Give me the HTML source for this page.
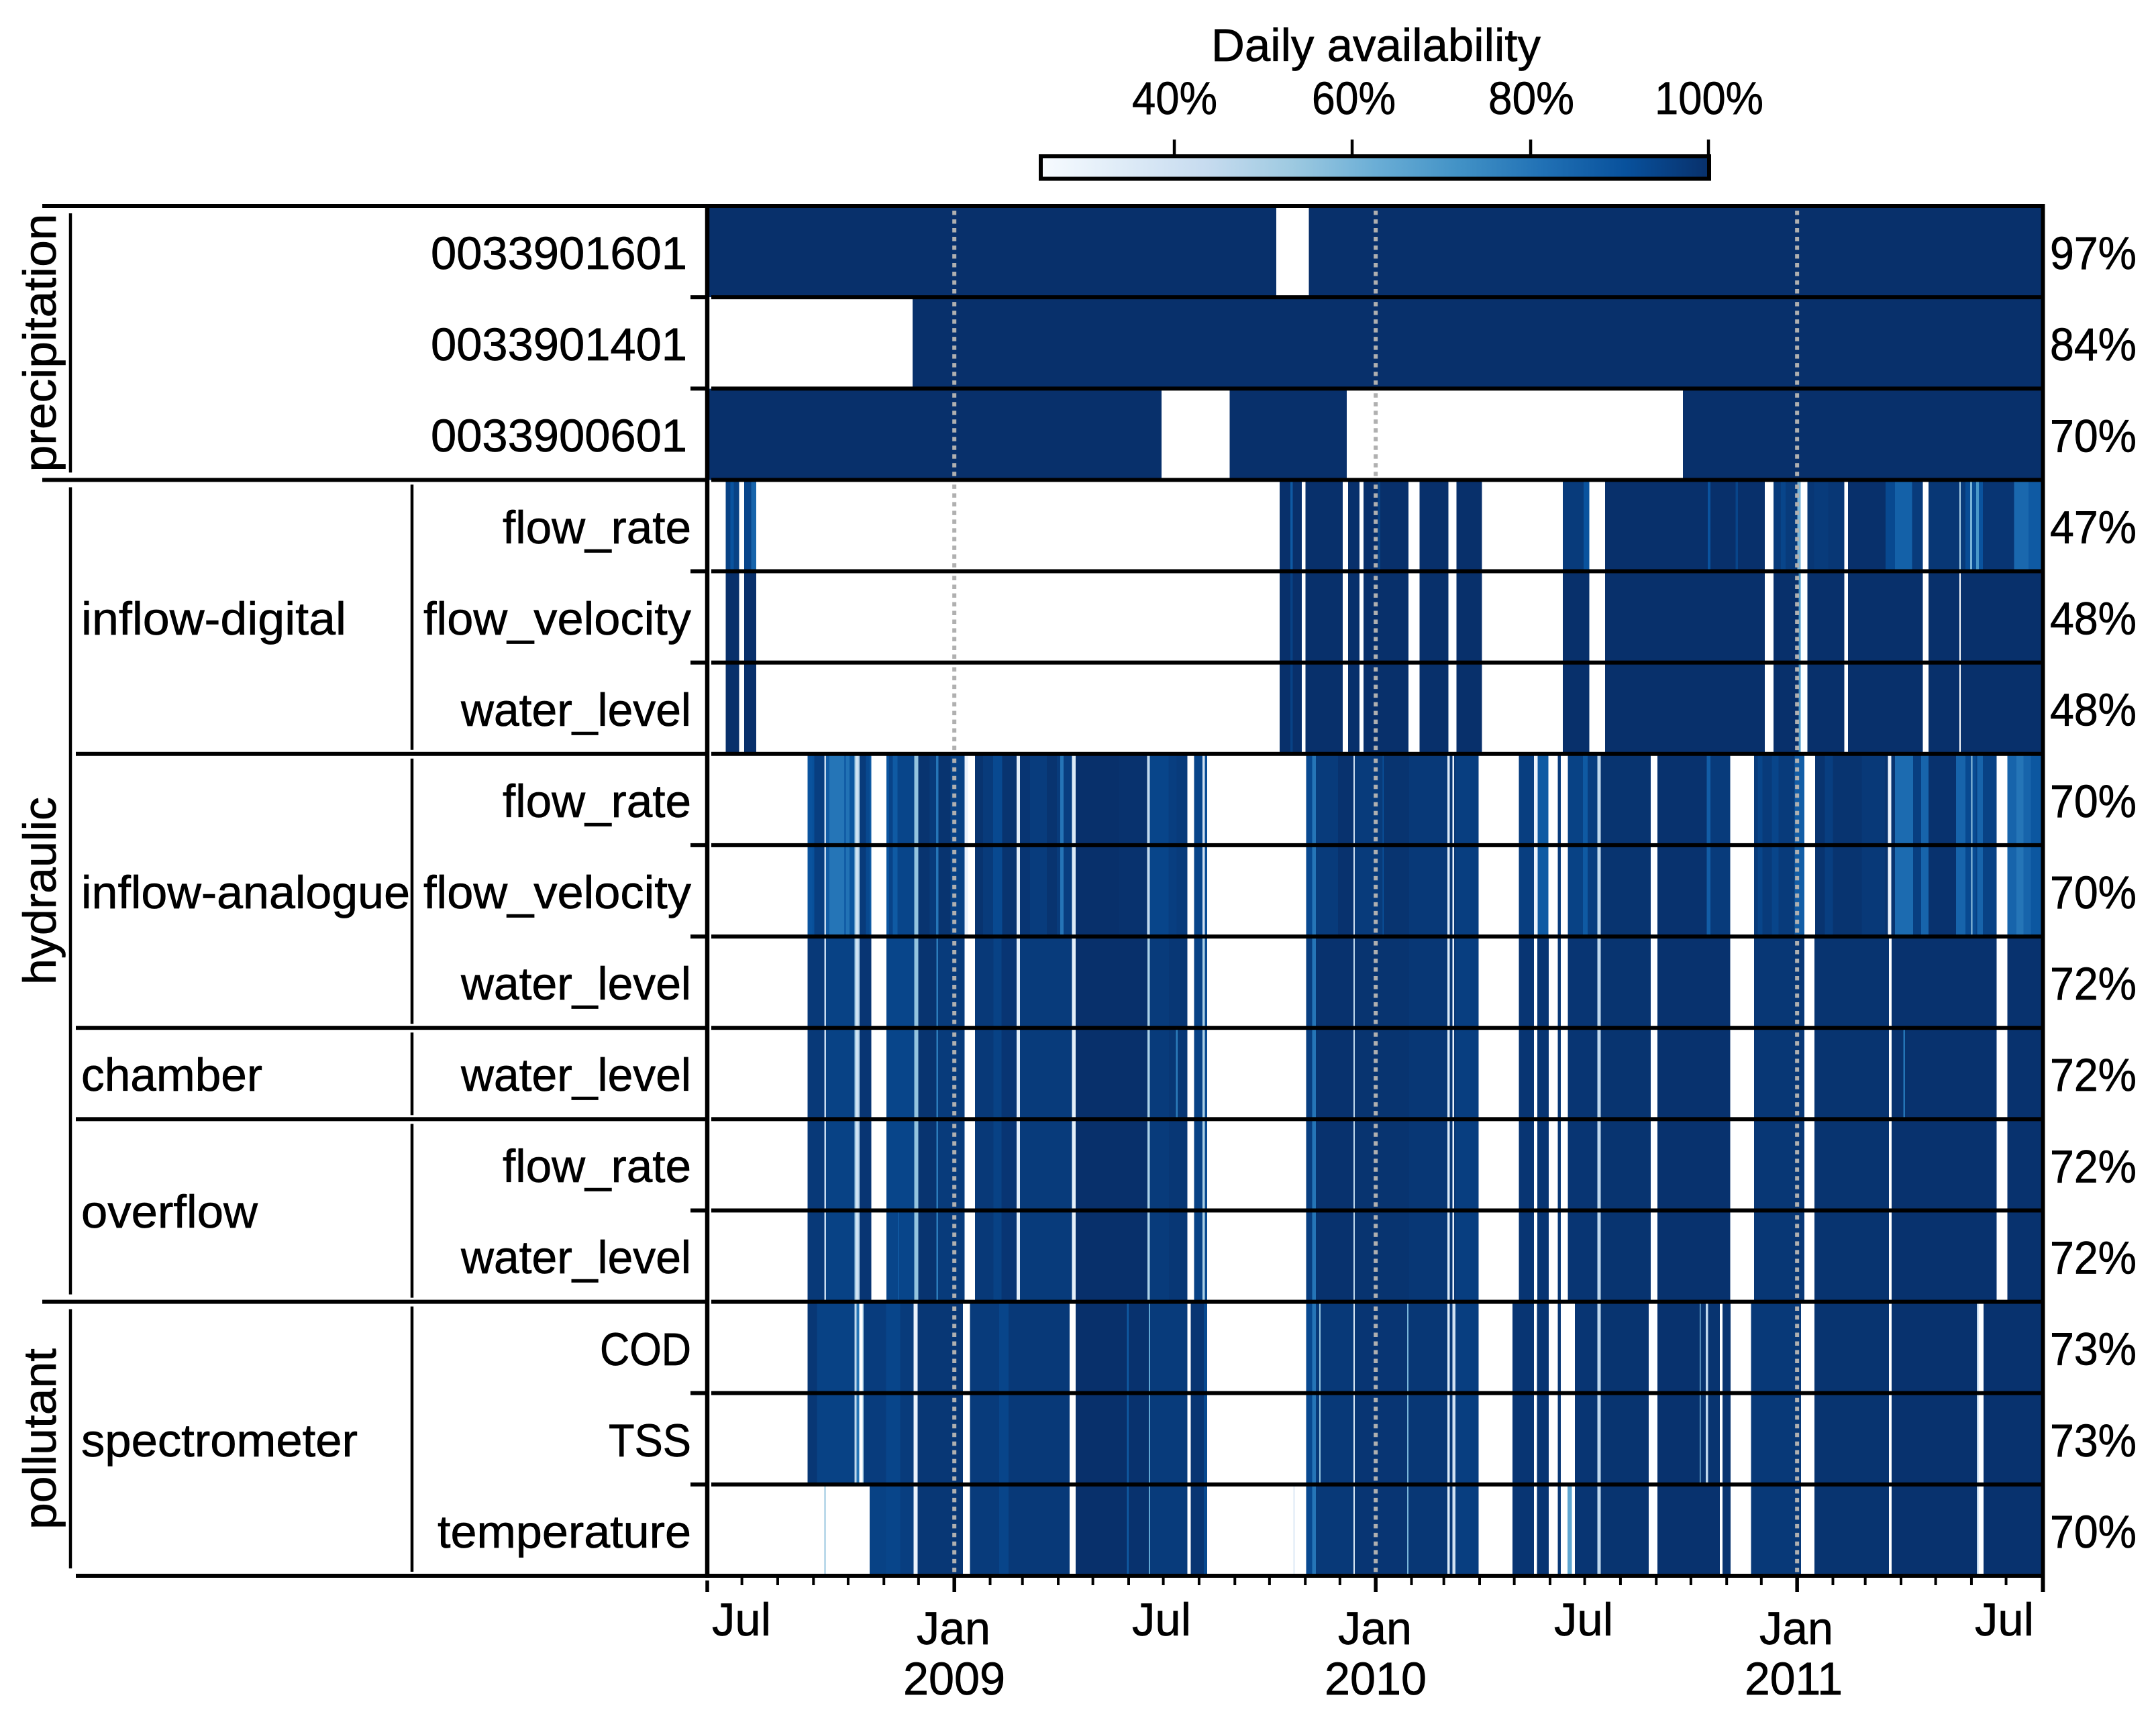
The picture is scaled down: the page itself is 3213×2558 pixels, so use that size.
<!DOCTYPE html>
<html lang="en">
<head>
<meta charset="utf-8">
<title>Daily availability heatmap</title>
<style>
html,body{margin:0;padding:0;background:#fff}
svg{display:block}
text{font-family:"Liberation Sans",sans-serif;font-size:69px;fill:#000;stroke:#000;stroke-width:.7px}
</style>
</head>
<body>
<svg id="chart" xmlns="http://www.w3.org/2000/svg" width="3213" height="2558" viewBox="0 0 3213 2558">
  <defs>
    <linearGradient id="blues" x1="0" x2="1" y1="0" y2="0">
      <stop offset="0" stop-color="#f7fbff"/><stop offset=".125" stop-color="#deebf7"/>
      <stop offset=".25" stop-color="#c6dbef"/><stop offset=".375" stop-color="#9ecae1"/>
      <stop offset=".5" stop-color="#6baed6"/><stop offset=".625" stop-color="#4292c6"/>
      <stop offset=".75" stop-color="#2171b5"/><stop offset=".875" stop-color="#08519c"/>
      <stop offset="1" stop-color="#08306b"/>
    </linearGradient>
  </defs>

  <g id="heat"></g>
  <g id="dashes"></g>
  <g id="frame"></g>
  <g id="ticks"></g>

  <g>
    <text x="1805" y="91" textLength="491" lengthAdjust="spacingAndGlyphs">Daily availability</text>
    <text x="1687" y="170" textLength="127" lengthAdjust="spacingAndGlyphs">40%</text>
    <text x="1955" y="170" textLength="125" lengthAdjust="spacingAndGlyphs">60%</text>
    <text x="2218" y="170" textLength="128" lengthAdjust="spacingAndGlyphs">80%</text>
    <text x="2466" y="170" textLength="162" lengthAdjust="spacingAndGlyphs">100%</text>
    <rect x="1551" y="233" width="996" height="33.5" fill="url(#blues)" stroke="#000" stroke-width="6"/>
    <rect x="1747.8" y="208" width="4.5" height="23"/>
    <rect x="2012.8" y="208" width="4.5" height="23"/>
    <rect x="2278.8" y="208" width="4.5" height="23"/>
    <rect x="2543.8" y="208" width="4.5" height="23"/>
  </g>

  <g>
    <text transform="translate(83 511) rotate(-90)" text-anchor="middle" textLength="385" lengthAdjust="spacingAndGlyphs">precipitation</text>
    <text transform="translate(83 1328) rotate(-90)" text-anchor="middle" textLength="280" lengthAdjust="spacingAndGlyphs">hydraulic</text>
    <text transform="translate(83 2145) rotate(-90)" text-anchor="middle" textLength="270" lengthAdjust="spacingAndGlyphs">pollutant</text>
  </g>

  <g>
    <text x="121" y="946" textLength="395" lengthAdjust="spacingAndGlyphs">inflow-digital</text>
    <text x="121" y="1354" textLength="490" lengthAdjust="spacingAndGlyphs">inflow-analogue</text>
    <text x="121" y="1626" textLength="270" lengthAdjust="spacingAndGlyphs">chamber</text>
    <text x="121" y="1830" textLength="263" lengthAdjust="spacingAndGlyphs">overflow</text>
    <text x="121" y="2171" textLength="412" lengthAdjust="spacingAndGlyphs">spectrometer</text>
  </g>

  <g>
    <text x="642" y="401" textLength="382" lengthAdjust="spacingAndGlyphs">0033901601</text>
    <text x="642" y="537" textLength="382" lengthAdjust="spacingAndGlyphs">0033901401</text>
    <text x="642" y="673" textLength="382" lengthAdjust="spacingAndGlyphs">0033900601</text>
    <text x="749" y="810" textLength="281" lengthAdjust="spacingAndGlyphs">flow_rate</text>
    <text x="631" y="946" textLength="399" lengthAdjust="spacingAndGlyphs">flow_velocity</text>
    <text x="687" y="1082" textLength="343" lengthAdjust="spacingAndGlyphs">water_level</text>
    <text x="749" y="1218" textLength="281" lengthAdjust="spacingAndGlyphs">flow_rate</text>
    <text x="631" y="1354" textLength="399" lengthAdjust="spacingAndGlyphs">flow_velocity</text>
    <text x="687" y="1490" textLength="343" lengthAdjust="spacingAndGlyphs">water_level</text>
    <text x="687" y="1626" textLength="343" lengthAdjust="spacingAndGlyphs">water_level</text>
    <text x="749" y="1762" textLength="281" lengthAdjust="spacingAndGlyphs">flow_rate</text>
    <text x="687" y="1898" textLength="343" lengthAdjust="spacingAndGlyphs">water_level</text>
    <text x="894" y="2035" textLength="136" lengthAdjust="spacingAndGlyphs">COD</text>
    <text x="907" y="2171" textLength="123" lengthAdjust="spacingAndGlyphs">TSS</text>
    <text x="652" y="2307" textLength="378" lengthAdjust="spacingAndGlyphs">temperature</text>
  </g>

  <g id="pct"></g>

  <g>
    <text x="1061" y="2438" textLength="88" lengthAdjust="spacingAndGlyphs">Jul</text>
    <text x="1687" y="2438" textLength="88" lengthAdjust="spacingAndGlyphs">Jul</text>
    <text x="2316" y="2438" textLength="88" lengthAdjust="spacingAndGlyphs">Jul</text>
    <text x="2943" y="2438" textLength="88" lengthAdjust="spacingAndGlyphs">Jul</text>
    <text x="1366" y="2451" textLength="110" lengthAdjust="spacingAndGlyphs">Jan</text>
    <text x="1994" y="2451" textLength="110" lengthAdjust="spacingAndGlyphs">Jan</text>
    <text x="2622" y="2451" textLength="110" lengthAdjust="spacingAndGlyphs">Jan</text>
    <text x="1346" y="2526" textLength="152" lengthAdjust="spacingAndGlyphs">2009</text>
    <text x="1974" y="2526" textLength="152" lengthAdjust="spacingAndGlyphs">2010</text>
    <text x="2600" y="2526" textLength="146" lengthAdjust="spacingAndGlyphs">2011</text>
  </g>
</svg>

<script>
// Data: each run is [first day, last day, availability %]; days count from 2008-06-01.
// Later runs paint over earlier ones.
const percentLabels = [97,84,70,47,48,48,70,70,72,72,72,72,73,73,70];

const rain1601 = [[0,493,100],[521,1157,100]];
const rain1401 = [[178,1157,100]];
const rain0601 = [[0,393.5,100],[452.6,554,100],[845,1157,100]];

const digitalBase = [[16,27.7,100],[32,42.4,100],[495.8,515,100],[518.3,550.5,100],[555,565,100],[568.4,607.5,100],[617,642,100],[649,671,100],[741,764,100],[777.6,916,100],[923.6,947,100],[945.5,947,70],[953,985,100],[988,1053,100],[1057.7,1084.5,100],[1085.7,1157,100],[505,507,95]];
const digitalRateStripes = [[16,27.7,95],[20,23,90],[32,38,94],[38,42.4,85],[505,507,88],[581,583,95],[741,764,97],[759,764,90],[866.7,869,90],[890.6,892.7,94],[923.6,944.2,97],[930,934,94],[944.2,947,60],[953,958.7,98],[958.7,971,97],[971,985,98],[1020.5,1028.8,93],[1028.8,1043.6,86],[1043.6,1053,97],[1057.7,1084.5,98],[1084.5,1085.7,50],[1085.7,1089.8,97],[1089.8,1094,92],[1094,1095.6,60],[1095.6,1099,92],[1099,1101.4,70],[1101.4,1105,90],[1105,1132,98.5],[1132,1144.3,84],[1144.3,1157,88]];
const digitalFlowRate = [...digitalBase, ...digitalRateStripes];
const digitalFlowVelocity = [...digitalBase];
const digitalWaterLevel = [...digitalBase];

const analogueVariable = [[86.8,91,90],[91,92.6,91],[92.6,101.3,96],[101.3,102.9,43],[102.9,105.8,87],[105.8,118.7,80],[118.7,120.3,87],[120.3,123.2,81],[123.2,127.5,89],[127.5,129,50],[129,130.4,38],[130.4,131.9,47],[131.9,137.5,97],[137.5,140.6,93],[140.6,142.2,88],[155.2,157.5,90],[157.5,160.8,94.5],[160.8,164.7,88],[164.7,179.4,94],[179.4,182.7,55],[182.7,192.6,99],[192.6,198.2,97],[198.2,200.1,80],[200.1,210.8,99],[210.8,223,95],[223,225.9,30],[231.9,238.9,99],[238.9,247.6,97],[247.6,255.4,93],[255.4,268,99],[268,270.9,32],[270.9,279.6,98.5],[279.6,294.1,96.5],[294.1,302.8,99],[302.8,305.8,97],[305.8,308.7,80],[308.7,316,96],[316,319,35],[319,357,100],[357,381,99.5],[381,383.3,45],[383.3,399.6,94],[399.6,406.5,96],[406.5,416,97],[421.6,428.9,94],[428.9,431,40],[431,433,92],[518.7,524,93],[524,527.2,80],[527.2,546.4,97],[546.4,559.8,99.5],[559.8,561,40],[561,585,97],[585,586,90],[586,608,99],[608,641,97.5],[641,643,35],[643,645.5,98],[645.5,646.8,30],[646.8,648.4,98],[648.4,668.2,96],[702.9,716,96],[716,719.4,30],[719.4,728.5,88],[736.7,739.2,97],[745.4,758.6,95],[758.6,762.7,88],[762.7,771,96],[771,773.8,45],[773.8,817.2,99],[823,865.8,99.5],[865.8,869,87],[869,886,97],[906.7,942,97],[910,914,94],[922,928,94],[942,950.4,87],[959.5,1022.6,99],[968,975,96],[1000,1020,97.5],[1022.6,1025.5,30],[1025.5,1028.8,99],[1028.8,1044.5,83],[1044.5,1051.5,96],[1051.5,1057.7,85],[1057.7,1081.6,99.5],[1081.6,1089.8,85],[1089.8,1094.8,93],[1094.8,1096,55],[1096,1098.9,92],[1098.9,1116.7,95],[1100,1105,85],[1126,1134,85],[1134,1140,80],[1140,1146.4,85],[1146.4,1157,89]];
const analogueFlowRate = [...analogueVariable];
const analogueFlowVelocity = [...analogueVariable];

const gaugeBase = [[86.8,101.3,97.5],[101.3,102.9,43],[102.9,127.5,95],[127.5,129,50],[129,130.4,38],[130.4,131.9,47],[131.9,142,98.5],[155.2,179.4,94],[179.4,182.7,55],[182.7,198.6,99],[198.6,199.8,78],[199.8,223,97],[232,248,97.5],[248,255,95],[255,268,98.5],[268,270.9,32],[270.9,316,97],[316,319,32],[319,381.2,100],[381.2,383.3,50],[383.3,400,97],[400,416,98],[421.6,428.9,95],[428.9,431,50],[431,433,93],[518.7,524,96],[524,527.2,80],[527.2,559.8,99.5],[559.8,561,45],[561,608,99],[608,641,98],[641,643,35],[643,645.5,98],[645.5,646.8,30],[646.8,648.4,98],[648.4,668.2,96],[702.9,716,98.5],[719,728.9,98.5],[736.7,739.2,98],[745.4,771,98.5],[771,773.8,45],[773.8,817.2,99],[823,886,99.5],[906.7,950.4,98],[959,1023.4,99],[1026,1116.7,99.5],[1126,1157,99.5]];
const analogueWaterLevel = [...gaugeBase];
const chamberWaterLevel = [...gaugeBase, [406,407.5,78], [1036,1037.5,80]];
const overflowFlowRate = [...gaugeBase];
const overflowWaterLevel = [...gaugeBase, [165,166,87]];

const spectroShared = [[178.6,182.3,30],[182.3,221.4,98],[227.5,252.8,97],[252.8,261,94],[261,314,97.5],[319,363.7,100],[363.7,365,88],[365,382.5,99.5],[382.5,383.7,65],[383.7,415.9,97],[418.8,430.2,98.5],[430.2,433,93],[518.7,524,93],[524,527.2,80],[527.2,559.8,97.5],[559.8,561,35],[561,606.3,98.5],[606.3,607.5,60],[607.5,641,98],[641,643,35],[643,645.5,98],[645.5,648,40],[648,668.2,96],[697.5,716,98.5],[718.6,728.9,98.5],[736.7,739.2,98],[751.6,771,98.5],[771,773.8,45],[773.8,815.5,99],[879.5,886.5,99],[904,947.5,97.5],[959,1023.4,99],[1026,1099.7,99.5],[1099.7,1101,45],[1105.5,1157,99.5]];
const spectroEarly = [[86.9,95,98],[95,127.6,95],[127.6,129.3,45],[129.3,131.7,80],[134.6,135.4,50],[135.4,155,96.5],[155,167,94],[167,178.6,97],[530,531.3,55],[823,859.7,99.5],[859.7,860.5,60],[860.5,865,99],[865,867,45],[867,877,99]];
const spectroCod = [...spectroShared, ...spectroEarly];
const spectroTss = [...spectroShared, ...spectroEarly];
const spectroTemperature = [...spectroShared, [101.4,102.6,55],[140.7,155,95],[155,167,94],[167,178.6,96],[507.6,508.9,35],[745,749,65],[823,877,99.5]];

const allSeries = [rain1601,rain1401,rain0601,digitalFlowRate,digitalFlowVelocity,digitalWaterLevel,analogueFlowRate,analogueFlowVelocity,analogueWaterLevel,chamberWaterLevel,overflowFlowRate,overflowWaterLevel,spectroCod,spectroTss,spectroTemperature];

const colormap = [[247,251,255],[222,235,247],[198,219,239],[158,202,225],[107,174,214],[66,146,198],[33,113,181],[8,81,156],[8,48,107]];
const startDate = Date.UTC(2008,5,1);
const monthStarts = [];
for (let y = 2008, m = 5; y < 2011 || m <= 7; m === 11 ? (y++, m = 0) : m++) monthStarts.push([y, m]);

// Axis functions
const NS = 'http://www.w3.org/2000/svg';
const xAxis = d => 1054 + d * 1.7205;
const yAxis = r => 307 + r * 136.13;
const dayOf = (y, m) => (Date.UTC(y, m, 1) - startDate) / 86400000;
function colour(v) {
  const t = Math.max(0, Math.min(1, (v - 25) / 75)) * (colormap.length - 1);
  const i = Math.min(colormap.length - 2, Math.floor(t));
  const f = t - i;
  const c = colormap[i].map((a, k) => Math.round(a + (colormap[i + 1][k] - a) * f));
  return 'rgb(' + c.join(',') + ')';
}
function make(tag, attrs) {
  const el = document.createElementNS(NS, tag);
  for (const k in attrs) el.setAttribute(k, attrs[k]);
  return el;
}

// Heatmap cells
const heat = document.getElementById('heat');
allSeries.forEach((runs, row) => {
  runs.forEach(run => {
    const x0 = xAxis(run[0]);
    const x1 = xAxis(run[1]);
    const el = make('rect', {x: x0, y: yAxis(row), width: x1 - x0, height: yAxis(row + 1) - yAxis(row), fill: colour(run[2]), 'shape-rendering': 'crispEdges'});
    
    
    heat.appendChild(el);
  });
});

// Dotted year lines (drawn per row)
const dashes = document.getElementById('dashes');
[[2009,0],[2010,0],[2011,0]].forEach(ym => {
  for (let row = 0; row < allSeries.length; row++) {
    const el = make('line', {x1: xAxis(dayOf(ym[0], ym[1])), x2: xAxis(dayOf(ym[0], ym[1])), y1: yAxis(row) + 7, y2: yAxis(row + 1), stroke: '#b0b0b0', 'stroke-width': 6, 'stroke-dasharray': '6.5 6.5'});
    
    
    dashes.appendChild(el);
  }
});

// Table lines
const frame = document.getElementById('frame');
function hLine(x0, x1, y) {
  const el = make('rect', {x: x0, y: y - 3, width: x1 - x0, height: 6, fill: '#000'});
  
  
  frame.appendChild(el);
}
function vLine(x, y0, y1, w) {
  const el = make('rect', {x: x - w / 2, y: y0, width: w, height: y1 - y0, fill: '#000'});
  
  
  frame.appendChild(el);
}
for (let r = 0; r <= allSeries.length; r++) {
  const y = yAxis(r);
  let left = 1029;
  if (r === 0 || r === 3 || r === 12) left = 63;
  else if (r === 6 || r === 9 || r === 10 || r === 15) left = 113;
  if (r === 0 || r === 15) {
    hLine(left, 3047, y);
  } else {
    hLine(left, 1052, y);
    hLine(1060, 3042, y);
  }
}
[[0,3],[3,12],[12,15]].forEach(s => vLine(105, yAxis(s[0]) + 11, yAxis(s[1]) - 11, 4.5));
[[3,6],[6,9],[9,10],[10,12],[12,15]].forEach(s => vLine(614, yAxis(s[0]) + 7, yAxis(s[1]) - 6, 4.5));
vLine(1054, 304, 2352, 6.5);
vLine(3044.5, 304, 2373, 6);

// Month ticks
const ticks = document.getElementById('ticks');
monthStarts.forEach((ym, i) => {
  const major = ym[1] === 0 || i === 0;
  const last = i === monthStarts.length - 1;
  if (last) return;
  const el = make('rect', {x: xAxis(dayOf(ym[0], ym[1])) - (major ? 2.75 : 2), y: i === 0 ? 2356 : 2350, width: major ? 5.5 : 4, height: (major ? 2373 : 2363) - (i === 0 ? 2356 : 2350), fill: '#000'});
  
  
  ticks.appendChild(el);
});

// Percent labels
const pct = document.getElementById('pct');
percentLabels.forEach((p, row) => {
  const el = make('text', {x: 3055, y: yAxis(row + 0.5) + 26, textLength: 129, lengthAdjust: 'spacingAndGlyphs'});
  el.textContent = p + '%';
  
  
  pct.appendChild(el);
});
</script>
</body>
</html>
